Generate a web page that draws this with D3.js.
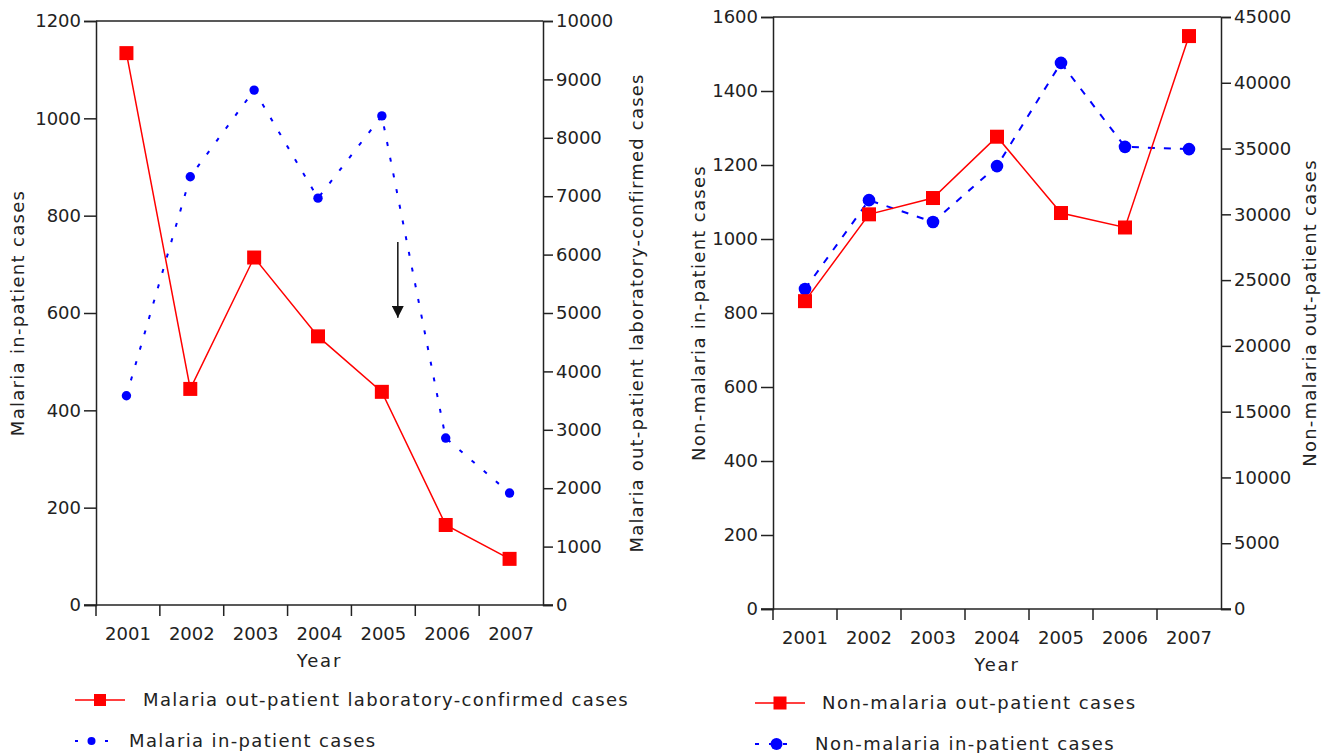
<!DOCTYPE html>
<html>
<head>
<meta charset="utf-8">
<script src="https://cdn.jsdelivr.net/npm/d3@7"></script>
<style>
  body { margin: 0; background: #fff; }
  svg text { font-family: "DejaVu Sans", sans-serif; fill: #222; }
</style>
</head>
<body>
<svg id="chart" width="1323" height="753"></svg>
<script>
// 数据
const years = ["2001", "2002", "2003", "2004", "2005", "2006", "2007"];

// 左图: 疟疾
const malariaInPatient = [430, 880, 1058, 836, 1005, 343, 230];
const malariaOutPatient = [9450, 3700, 5950, 4600, 3650, 1370, 790];
const malariaLeftTicks = [0, 200, 400, 600, 800, 1000, 1200];
const malariaRightTicks = [0, 1000, 2000, 3000, 4000, 5000, 6000, 7000, 8000, 9000, 10000];

// 右图: 非疟疾
const nonMalariaInPatient = [865, 1105, 1046, 1197, 1476, 1249, 1243];
const nonMalariaOutPatient = [23400, 30000, 31240, 35900, 30100, 29000, 43550];
const nonMalariaLeftTicks = [0, 200, 400, 600, 800, 1000, 1200, 1400, 1600];
const nonMalariaRightTicks = [0, 5000, 10000, 15000, 20000, 25000, 30000, 35000, 40000, 45000];

// 箭头 (左轴单位)
const arrowFrom = 746;
const arrowTo = 590;

const svg = d3.select("#chart");

/**
 * 画一个双轴折线图
 */
function drawChart(opt) {
    let w = opt.right - opt.left;
    let h = opt.bottom - opt.top;

    let g = svg.append("g").attr("transform", "translate(" + opt.left + "," + opt.top + ")");

    let x = d3.scaleBand().domain(years).range([0, w]);
    let yL = d3.scaleLinear().domain([0, d3.max(opt.leftTicks)]).range([h, 0]);
    let yR = d3.scaleLinear().domain([0, d3.max(opt.rightTicks)]).range([h, 0]);

    // 上边框
    g.append("line")
        .attr("x1", 0).attr("x2", w)
        .attr("y1", 0).attr("y2", 0)
        .attr("stroke", "#222").attr("stroke-width", 1.5);

    // 左轴
    let axL = g.append("g")
        .call(d3.axisLeft(yL).tickValues(opt.leftTicks).tickSize(12).tickPadding(3).tickFormat(d3.format("d")));
    // 右轴
    let axR = g.append("g")
        .attr("transform", "translate(" + w + ",0)")
        .call(d3.axisRight(yR).tickValues(opt.rightTicks).tickSize(10).tickPadding(3).tickFormat(d3.format("d")));
    // 下轴
    let axB = g.append("g")
        .attr("transform", "translate(0," + h + ")")
        .call(d3.axisBottom(x).tickSize(0).tickPadding(22));

    // 年份分隔刻度
    axB.selectAll(".sep")
        .data(years)
        .enter()
        .append("line")
        .attr("class", "sep")
        .attr("x1", d => x(d)).attr("x2", d => x(d))
        .attr("y1", 0).attr("y2", 11)
        .attr("stroke", "#222").attr("stroke-width", 1.5);

    [axL, axR, axB].forEach(a => {
        a.select(".domain").attr("stroke", "#222").attr("stroke-width", 1.5);
        a.selectAll(".tick line").attr("stroke", "#222").attr("stroke-width", 1.5);
        a.selectAll("text").attr("font-size", 18).attr("fill", "#222");
    });
    axB.select(".domain").attr("d", "M-12,0H" + (w + 10));

    // 轴标题
    g.append("text")
        .attr("transform", "translate(" + opt.leftTitleX + "," + (h / 2) + ") rotate(-90)")
        .attr("text-anchor", "middle")
        .attr("dy", "0.35em")
        .attr("font-size", 18)
        .attr("letter-spacing", 1.3)
        .text(opt.leftTitle);
    g.append("text")
        .attr("transform", "translate(" + (w + opt.rightTitleX) + "," + (h / 2) + ") rotate(-90)")
        .attr("text-anchor", "middle")
        .attr("dy", "0.35em")
        .attr("font-size", 18)
        .attr("letter-spacing", 1.2)
        .text(opt.rightTitle);
    g.append("text")
        .attr("x", w / 2)
        .attr("y", h + 62)
        .attr("text-anchor", "middle")
        .attr("font-size", 18)
        .attr("letter-spacing", 1.8)
        .text("Year");

    let cx = d => x(d) + x.bandwidth() / 2 + opt.shift;

    // 住院 (蓝色虚线)
    let lineIn = d3.line().x((d, i) => cx(years[i])).y(d => yL(d));
    g.append("path")
        .datum(opt.inPatient)
        .attr("d", lineIn)
        .attr("fill", "none")
        .attr("stroke", "#0000ff")
        .attr("stroke-width", 2)
        .attr("stroke-dasharray", opt.dash);

    // 门诊 (红色实线)
    let lineOut = d3.line().x((d, i) => cx(years[i])).y(d => yR(d));
    g.append("path")
        .datum(opt.outPatient)
        .attr("d", lineOut)
        .attr("fill", "none")
        .attr("stroke", "#ff0000")
        .attr("stroke-width", 1.5);

    g.selectAll(".dot")
        .data(opt.inPatient)
        .enter()
        .append("circle")
        .attr("cx", (d, i) => cx(years[i]))
        .attr("cy", d => yL(d))
        .attr("r", opt.dotR)
        .attr("fill", "#0000ff");

    g.selectAll(".sq")
        .data(opt.outPatient)
        .enter()
        .append("rect")
        .attr("x", (d, i) => cx(years[i]) - opt.sq / 2)
        .attr("y", d => yR(d) - opt.sq / 2)
        .attr("width", opt.sq)
        .attr("height", opt.sq)
        .attr("fill", "#ff0000");

    // 图例
    let lg = svg.append("g").attr("transform", "translate(" + opt.legendX + "," + opt.legendY + ")");
    lg.append("line")
        .attr("x1", 0).attr("x2", opt.legendLine)
        .attr("y1", 0).attr("y2", 0)
        .attr("stroke", "#ff0000").attr("stroke-width", 1.5);
    lg.append("rect")
        .attr("x", opt.legendLine / 2 - opt.legendSq / 2)
        .attr("y", -opt.legendSq / 2)
        .attr("width", opt.legendSq).attr("height", opt.legendSq)
        .attr("fill", "#ff0000");
    lg.append("text")
        .attr("x", opt.legendText1)
        .attr("dy", "0.35em")
        .attr("font-size", 18)
        .attr("letter-spacing", opt.legendSpacing)
        .text(opt.outLabel);

    let lb = lg.append("g").attr("transform", "translate(0," + opt.legendGap + ")");
    lb.append("line")
        .attr("x1", 0).attr("x2", opt.legendDashW)
        .attr("y1", 0).attr("y2", 0)
        .attr("stroke", "#0000ff").attr("stroke-width", 2)
        .attr("stroke-dasharray", opt.legendDash);
    lb.append("circle")
        .attr("cx", opt.legendDashW / 2 + opt.legendDotShift)
        .attr("cy", 0)
        .attr("r", opt.legendDotR)
        .attr("fill", "#0000ff");
    lb.append("text")
        .attr("x", opt.legendText2)
        .attr("dy", "0.35em")
        .attr("font-size", 18)
        .attr("letter-spacing", opt.legendSpacing)
        .text(opt.inLabel);

    return {g: g, x: x, yL: yL, cx: cx};
}

let left = drawChart({
    left: 96, right: 543, top: 21, bottom: 605,
    leftTicks: malariaLeftTicks, rightTicks: malariaRightTicks,
    inPatient: malariaInPatient, outPatient: malariaOutPatient,
    leftTitle: "Malaria in-patient cases",
    rightTitle: "Malaria out-patient laboratory-confirmed cases",
    leftTitleX: -78, rightTitleX: 94,
    shift: -1.5, dotR: 4.7, sq: 14, dash: "4,12",
    legendX: 75, legendY: 700, legendLine: 50, legendSq: 12, legendText1: 68, legendSpacing: 1.35,
    legendGap: 41, legendDashW: 33, legendDash: "3,12", legendDotShift: 0, legendDotR: 4, legendText2: 54,
    outLabel: "Malaria out-patient laboratory-confirmed cases",
    inLabel: "Malaria in-patient cases"
});

drawChart({
    left: 773, right: 1221, top: 17, bottom: 609,
    leftTicks: nonMalariaLeftTicks, rightTicks: nonMalariaRightTicks,
    inPatient: nonMalariaInPatient, outPatient: nonMalariaOutPatient,
    leftTitle: "Non-malaria in-patient cases",
    rightTitle: "Non-malaria out-patient cases",
    leftTitleX: -74, rightTitleX: 89,
    shift: 0, dotR: 6.3, sq: 14, dash: "7,9",
    legendX: 755, legendY: 703, legendLine: 50, legendSq: 13, legendText1: 67, legendSpacing: 1.45,
    legendGap: 41, legendDashW: 37, legendDash: "4,10", legendDotShift: 3, legendDotR: 6, legendText2: 60,
    outLabel: "Non-malaria out-patient cases",
    inLabel: "Non-malaria in-patient cases"
});

// 箭头
let ax = left.cx("2005") + left.x.bandwidth() * 0.25;
svg.append("defs").append("marker")
    .attr("id", "arrow")
    .attr("viewBox", "0 0 10 10")
    .attr("refX", 10).attr("refY", 5)
    .attr("markerWidth", 12).attr("markerHeight", 12)
    .attr("markerUnits", "userSpaceOnUse")
    .attr("orient", "auto")
    .append("path")
    .attr("d", "M0,0L10,5L0,10Z")
    .attr("fill", "#111");
left.g.append("line")
    .attr("x1", ax).attr("x2", ax)
    .attr("y1", left.yL(arrowFrom)).attr("y2", left.yL(arrowTo))
    .attr("stroke", "#111").attr("stroke-width", 1.5)
    .attr("marker-end", "url(#arrow)");
</script>
</body>
</html>
